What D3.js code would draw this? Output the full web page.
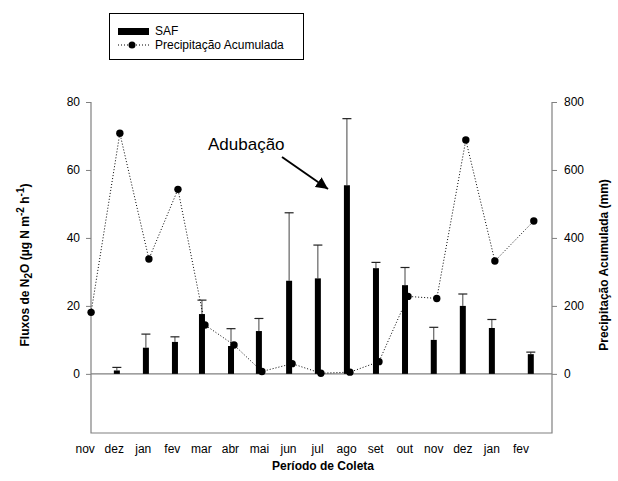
<!DOCTYPE html>
<html>
<head>
<meta charset="utf-8">
<script src="https://cdnjs.cloudflare.com/ajax/libs/d3/7.8.5/d3.min.js"></script>
<style>
body { margin: 0; background: #fff; }
svg { font-family: "Liberation Sans", Arial, sans-serif; }
</style>
</head>
<body>
<svg></svg>
<script>
// month labels, one per month since first collection
var meses = ["nov","dez","jan","fev","mar","abr","mai","jun","jul","ago","set","out","nov","dez","jan","fev"];

// collection time (months since start of nov)
var coleta = [0.1, 1.09, 2.09, 3.09, 4.02, 5.02, 5.98, 7.02, 8.01, 9.01, 10.01, 11.01, 12.0, 13.0, 14.0, 15.34];

// N2O flux SAF (ug N m-2 h-1) and upper error bar
var fluxo = [null, 1.0, 7.7, 9.4, 17.6, 8.2, 12.6, 27.4, 28.1, 55.5, 31.1, 26.1, 10.0, 20.0, 13.5, 5.8];
var fluxoErro = [null, 1.9, 11.7, 10.9, 21.7, 13.3, 16.3, 47.4, 37.9, 75.1, 32.8, 31.3, 13.7, 23.5, 16.0, 6.4];

// accumulated precipitation (mm)
var precip = [181, 708, 338, 543, 144, 85, 7, 30, 2, 5, 36, 228, 222, 688, 332, 450];

var ticksFluxo = [0, 20, 40, 60, 80];
var ticksPrecip = [0, 200, 400, 600, 800];

var screen = {width: 618, height: 481};
var plot = {left: 91, right: 552, top: 102, bottom: 433};

var svg = d3.select("svg")
    .attr("width", screen.width)
    .attr("height", screen.height);

var xScale = d3.scaleLinear()
    .domain([0.2, 16.07])
    .range([plot.left, plot.right]);

var yFluxo = d3.scaleLinear()
    .domain([-17.4, 80])
    .range([plot.bottom, plot.top]);

var yPrecip = d3.scaleLinear()
    .domain([-174, 800])
    .range([plot.bottom, plot.top]);

var cinza = "#808080";

// frame: left, right, bottom and zero line
svg.append("path")
    .attr("d", "M" + plot.left + "," + plot.top + "V" + plot.bottom + "H" + plot.right + "V" + plot.top)
    .attr("fill", "none")
    .attr("stroke", cinza)
    .attr("stroke-width", 1.2);

svg.append("line")
    .attr("x1", plot.left).attr("x2", plot.right)
    .attr("y1", yFluxo(0)).attr("y2", yFluxo(0))
    .attr("stroke", cinza)
    .attr("stroke-width", 1.2);

// axes
var leftAxis = d3.axisLeft(yFluxo).tickValues(ticksFluxo).tickSize(5).tickPadding(6);
var rightAxis = d3.axisRight(yPrecip).tickValues(ticksPrecip).tickSize(5).tickPadding(7);

var drawAxis = function(g)
{
    g.select(".domain").remove();
    g.selectAll(".tick line").attr("stroke", cinza);
    g.selectAll(".tick text")
        .attr("fill", "#000")
        .style("font-size", "12px")
        .style("font-family", "Liberation Sans, Arial, sans-serif");
}

svg.append("g")
    .attr("transform", "translate(" + plot.left + ",0)")
    .call(leftAxis)
    .call(drawAxis);

svg.append("g")
    .attr("transform", "translate(" + plot.right + ",0)")
    .call(rightAxis)
    .call(drawAxis);

// month labels
svg.append("g")
    .selectAll("text")
    .data(meses)
    .enter()
    .append("text")
    .attr("x", function(m, i){return xScale(i)})
    .attr("y", 453)
    .attr("text-anchor", "middle")
    .style("font-size", "12px")
    .text(function(m){return m});

// bars
var barras = coleta.map(function(t, i){
    return {x: t, y: fluxo[i], e: fluxoErro[i]};
}).filter(function(d){return d.y != null});

var bw = 6;

svg.append("g")
    .selectAll("line")
    .data(barras)
    .enter()
    .append("line")
    .attr("x1", function(d){return xScale(d.x)})
    .attr("x2", function(d){return xScale(d.x)})
    .attr("y1", function(d){return yFluxo(d.y)})
    .attr("y2", function(d){return yFluxo(d.e)})
    .attr("stroke", "#444")
    .attr("stroke-width", 1);

svg.append("g")
    .selectAll("line")
    .data(barras)
    .enter()
    .append("line")
    .attr("x1", function(d){return xScale(d.x) - 4.5})
    .attr("x2", function(d){return xScale(d.x) + 4.5})
    .attr("y1", function(d){return yFluxo(d.e)})
    .attr("y2", function(d){return yFluxo(d.e)})
    .attr("stroke", "#222")
    .attr("stroke-width", 1.2);

svg.append("g")
    .selectAll("rect")
    .data(barras)
    .enter()
    .append("rect")
    .attr("x", function(d){return xScale(d.x) - bw / 2})
    .attr("width", bw)
    .attr("y", function(d){return yFluxo(d.y)})
    .attr("height", function(d){return yFluxo(0) - yFluxo(d.y)})
    .attr("fill", "#000");

// precipitation, drawn a little to the right of the bars
var pontos = coleta.map(function(t, i){
    return {x: t, y: precip[i]};
});

var dx = 3;

svg.append("path")
    .datum(pontos)
    .attr("fill", "none")
    .attr("stroke", "#000")
    .attr("stroke-width", 1)
    .attr("stroke-dasharray", "1,2")
    .attr("d", d3.line()
        .x(function(d){return xScale(d.x) + dx})
        .y(function(d){return yPrecip(d.y)}));

svg.append("g")
    .selectAll("circle")
    .data(pontos)
    .enter()
    .append("circle")
    .attr("cx", function(d){return xScale(d.x) + dx})
    .attr("cy", function(d){return yPrecip(d.y)})
    .attr("r", 3.7)
    .attr("fill", "#000");

// annotation
svg.append("text")
    .attr("x", 208)
    .attr("y", 150)
    .style("font-size", "17px")
    .text("Adubação");

svg.append("defs")
    .append("marker")
    .attr("id", "seta")
    .attr("viewBox", "0 0 10 10")
    .attr("refX", 10).attr("refY", 5)
    .attr("markerWidth", 6).attr("markerHeight", 6)
    .attr("markerUnits", "strokeWidth")
    .attr("orient", "auto")
    .append("path")
    .attr("d", "M0,0L10,5L0,10Z")
    .attr("fill", "#000");

svg.append("line")
    .attr("x1", 282).attr("y1", 157)
    .attr("x2", 328).attr("y2", 189)
    .attr("stroke", "#000")
    .attr("stroke-width", 2)
    .attr("marker-end", "url(#seta)");

// axis titles
svg.append("text")
    .attr("transform", "translate(323,470)")
    .attr("text-anchor", "middle")
    .style("font-size", "12px")
    .style("font-weight", "bold")
    .text("Período de Coleta");

var tituloY = svg.append("text")
    .attr("transform", "translate(29,265) rotate(-90)")
    .attr("text-anchor", "middle")
    .style("font-size", "12px")
    .style("font-weight", "bold");
tituloY.append("tspan").text("Fluxos de N");
tituloY.append("tspan").attr("dy", 3).style("font-size", "10px").text("2");
tituloY.append("tspan").attr("dy", -3).text("O (µg N m");
tituloY.append("tspan").attr("dy", -5).style("font-size", "10px").text("-2");
tituloY.append("tspan").attr("dy", 5).text(" h");
tituloY.append("tspan").attr("dy", -5).style("font-size", "10px").text("-1");
tituloY.append("tspan").attr("dy", 5).text(")");

svg.append("text")
    .attr("transform", "translate(608,265) rotate(-90)")
    .attr("text-anchor", "middle")
    .style("font-size", "12px")
    .style("font-weight", "bold")
    .text("Precipitação Acumulada (mm)");

// legend
var legenda = svg.append("g");
legenda.append("rect")
    .attr("x", 109.5).attr("y", 13.5)
    .attr("width", 194).attr("height", 46)
    .attr("fill", "none")
    .attr("stroke", "#000")
    .attr("stroke-width", 1);
legenda.append("rect")
    .attr("x", 118).attr("y", 28)
    .attr("width", 31).attr("height", 7)
    .attr("fill", "#000");
legenda.append("text")
    .attr("x", 155).attr("y", 35)
    .style("font-size", "12px")
    .text("SAF");
legenda.append("line")
    .attr("x1", 118).attr("x2", 149)
    .attr("y1", 45).attr("y2", 45)
    .attr("stroke", "#000")
    .attr("stroke-dasharray", "1,2");
legenda.append("circle")
    .attr("cx", 132).attr("cy", 45).attr("r", 3.5)
    .attr("fill", "#000");
legenda.append("text")
    .attr("x", 155).attr("y", 49)
    .style("font-size", "12px")
    .text("Precipitação Acumulada");
</script>
</body>
</html>
